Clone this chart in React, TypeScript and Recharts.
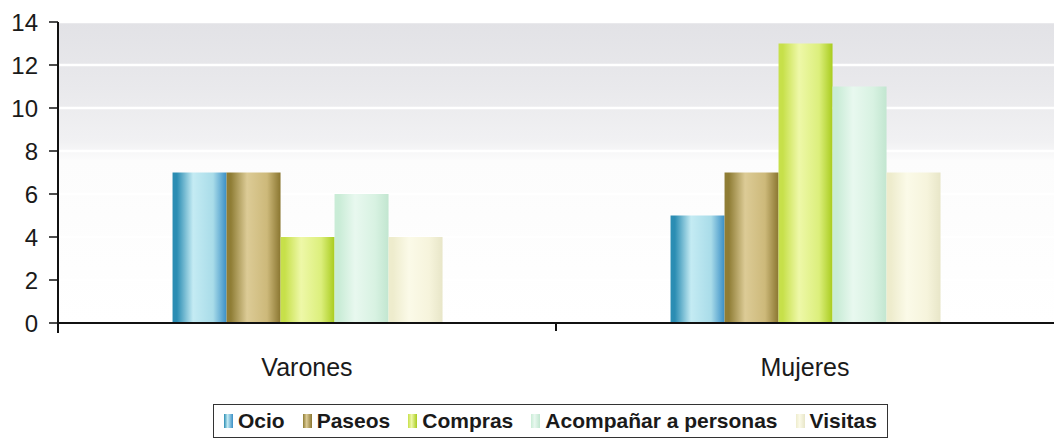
import React from 'react'
import { BarChart, Bar, XAxis, YAxis, CartesianGrid } from 'recharts'

const categories = ['Varones', 'Mujeres']
const ocio = [7, 5]
const paseos = [7, 7]
const compras = [4, 13]
const acompanar = [6, 11]
const visitas = [4, 7]
const yTicks = [0, 2, 4, 6, 8, 10, 12, 14]

const FONT = '"Liberation Sans", Arial, Helvetica, sans-serif'

// each series: key, legend label, and gradient stops (edge / highlight / mid / edge)
const series = [
  { key: 'ocio', name: 'Ocio', values: ocio, stops: ['#2b8db3', '#c4ebf3', '#a9dce9', '#3a8fc6'] },
  { key: 'paseos', name: 'Paseos', values: paseos, stops: ['#8f7d35', '#dccb96', '#cdb97a', '#8a7630'] },
  { key: 'compras', name: 'Compras', values: compras, stops: ['#c7e04a', '#eef8a8', '#dcef7c', '#a9cc1e'] },
  { key: 'acompanar', name: 'Acompañar a personas', values: acompanar, stops: ['#c9ecd6', '#e8f8ef', '#d8f2e2', '#c2e6d0'] },
  { key: 'visitas', name: 'Visitas', values: visitas, stops: ['#eeeccd', '#fbfae8', '#f6f4dc', '#e8e6c8'] },
]

const data = categories.map((cat, i) => {
  const row: Record<string, string | number> = { cat }
  series.forEach((s) => {
    row[s.key] = s.values[i]
  })
  return row
})

// category label plus the tick marks that sit on the category boundaries
function CategoryTick({ x, y, payload, index }: any) {
  const half = payload?.offset ?? 248.5
  return (
    <g>
      <text x={x} y={y + 45} textAnchor="middle" fontSize={25} fill="#1a1a1a" fontFamily={FONT}>
        {payload.value}
      </text>
      {index === 0 && (
        <>
          <line x1={x - half} x2={x - half} y1={y - 9} y2={y + 2} stroke="#111" strokeWidth={2} />
          <line x1={x + half} x2={x + half} y1={y - 9} y2={y} stroke="#111" strokeWidth={2} />
        </>
      )}
    </g>
  )
}

function LegendBox() {
  return (
    <div
      style={{
        position: 'absolute',
        left: 213,
        top: 404,
        width: 675,
        height: 34,
        boxSizing: 'border-box',
        border: '1.5px solid #333',
        display: 'flex',
        alignItems: 'center',
        paddingLeft: 10,
        gap: 18,
        fontFamily: FONT,
        fontWeight: 700,
        fontSize: 21,
        color: '#1a1a1a',
      }}
    >
      {series.map((s) => (
        <div key={s.key} style={{ display: 'flex', alignItems: 'center', gap: 5 }}>
          <span
            style={{
              display: 'inline-block',
              width: 9,
              height: 14,
              background: `linear-gradient(to right, ${s.stops[0]}, ${s.stops[1]} 40%, ${s.stops[3]})`,
            }}
          />
          <span>{s.name}</span>
        </div>
      ))}
    </div>
  )
}

export default function App() {
  return (
    <div style={{ position: 'absolute', left: 0, top: 0, width: 1054, height: 441, background: '#fff' }}>
      <BarChart
        width={1054}
        height={441}
        data={data}
        margin={{ top: 22, right: 0, left: 0, bottom: 58 }}
        barCategoryGap="23%"
        barGap={0}
      >
        <defs>
          <linearGradient id="plotBg" x1="0" y1="0" x2="0" y2="1">
            <stop offset="0%" stopColor="#e2e2e6" />
            <stop offset="22%" stopColor="#e9e9ec" />
            <stop offset="40%" stopColor="#f1f1f3" />
            <stop offset="46%" stopColor="#fcfcfc" />
            <stop offset="100%" stopColor="#ffffff" />
          </linearGradient>
          {series.map((s) => (
            <linearGradient key={s.key} id={`g-${s.key}`} x1="0" y1="0" x2="1" y2="0">
              <stop offset="0%" stopColor={s.stops[0]} />
              <stop offset="8%" stopColor={s.stops[0]} />
              <stop offset="38%" stopColor={s.stops[1]} />
              <stop offset="75%" stopColor={s.stops[2]} />
              <stop offset="100%" stopColor={s.stops[3]} />
            </linearGradient>
          ))}
        </defs>
        <CartesianGrid fill="url(#plotBg)" stroke="#ffffff" strokeWidth={2.5} vertical={false} />
        <XAxis
          dataKey="cat"
          height={60}
          axisLine={{ stroke: '#111', strokeWidth: 2 }}
          tickLine={false}
          tick={<CategoryTick />}
          interval={0}
        />
        <YAxis
          width={58}
          domain={[0, 14]}
          ticks={yTicks}
          interval={0}
          axisLine={{ stroke: '#111', strokeWidth: 2 }}
          tickLine={{ stroke: '#111', strokeWidth: 1.5 }}
          tickSize={9}
          tickMargin={11}
          tick={{ fontSize: 24, fill: '#1a1a1a', fontFamily: FONT }}
        />
        {series.map((s) => (
          <Bar key={s.key} dataKey={s.key} name={s.name} fill={`url(#g-${s.key})`} isAnimationActive={false} />
        ))}
      </BarChart>
      <LegendBox />
    </div>
  )
}
